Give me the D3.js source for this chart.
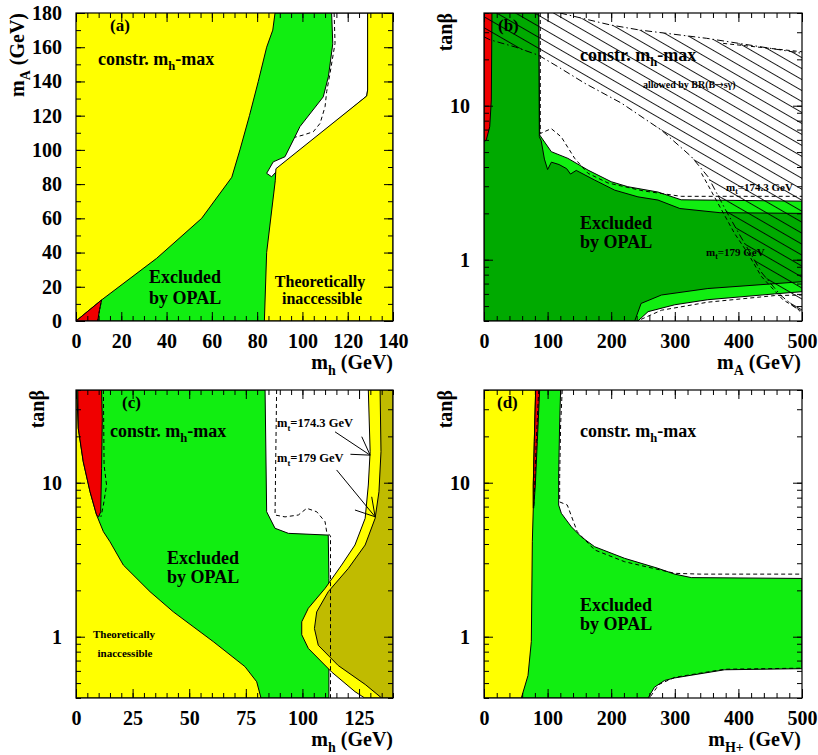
<!DOCTYPE html>
<html><head><meta charset="utf-8">
<script src="https://cdn.jsdelivr.net/npm/d3@7"></script>
<style>
body{margin:0;background:#fff;}
svg{display:block;font-family:"Liberation Serif","Times New Roman",serif;font-weight:bold;}
</style></head><body>
<svg id="chart" width="818" height="755"></svg>
<script>
// ================= DATA =================
// Panel (a): m_h (x) vs m_A (y), GeV
const aXTicks=[0,20,40,60,80,100,120,140];
const aYTicks=[0,20,40,60,80,100,120,140,160,180];
const aExcluded=[[0,0],[11.3,12.3],[35.6,36.6],[55.5,60],[68.8,84],[72.4,100],[76.6,120],[80.5,140],[84.2,160],[86.9,170],[87.9,180],[140,180],[140,0]];
const aAllowed=[[112.9,180],[113.4,162],[111.5,143],[109.2,131],[98.9,113.6],[96,105.8],[92.3,96],[87.1,93],[84.2,86.3],[86.4,84.3],[89.4,88.7],[128.4,131.5],[128.8,135],[128.8,180]];
const aTheoInacc=[[83.2,0],[84.2,40],[88,82],[88.3,89],[128.4,131.5],[128.8,135],[128.8,180],[140,180],[140,0]];
const aRed=[[0,0],[11.3,12.3],[10.4,6.5],[9.6,0]];
const aDashed=[[114,180],[114.4,162.3],[112.2,144.8],[110.7,134],[110,125.3],[107.8,115.5],[104.8,110.6],[100.4,108.7],[96.7,107.4]];
const aRedDashed=[[9.6,0],[10.4,6.5],[11.3,12.3]];

// Panel (b): m_A (x) vs tan(beta) (y)
const bXTicks=[0,100,200,300,400,500];
const bYTicks=[1,10];
const bLightGreen=[[0,40],[86,40],[87.6,6.45],[105.8,5.03],[132,4.55],[163.5,3.82],[200,3.21],[226,2.98],[273.6,2.75],[310,2.45],[500,2.40],[500,0.62],[457,0.60],[352,0.55],[300,0.51],[258,0.46],[242,0.40],[0,0.4]];
const bDarkGreen=[[0,40],[86,40],[87,6.3],[90,5.9],[95,4.5],[100,3.85],[106,4.3],[118,4.15],[130,3.9],[136,3.6],[145,3.8],[174,3.29],[205.5,2.83],[242,2.56],[273.6,2.44],[308,2.15],[371,2.02],[500,2.0],[500,0.72],[352,0.65],[279,0.59],[247,0.52],[237,0.4],[0,0.4]];
const bRed=[[0,40],[12.5,40],[11.5,10.9],[9,7.3],[3.6,6.0],[0,5.8]];
const bBsgUpper=[[119.5,40],[198,33.5],[245,31],[350,27.4],[500,21.9]];
const bBsgLower=[[0,28],[9.4,26.8],[50,24],[85.4,21.3],[116.4,17.9],[158.3,14.0],[216,10.4],[278.8,6.95],[326,4.67],[352.2,3.46],[380,2.1],[402,1.45],[437,0.82],[466,0.59],[500,0.45]];
const bBsgUpperDashed=[[376,25.4],[500,22.4]];
const bBsgLowerDashed=[[342,3.64],[368,2.32],[394,1.48],[415,1.10],[436,0.78],[470,0.55],[500,0.46]];
const bDashedUpper=[[88.5,40],[88.5,6.6],[105.8,7.1],[121.5,6.27],[142.6,4.55],[163.5,3.64],[195,3.15],[250,2.8],[310,2.58],[500,2.58]];
const bDashedLower=[[247,0.41],[279,0.47],[352,0.53],[457,0.585],[500,0.59]];

// Panel (c): m_h (x) vs tan(beta) (y)
const cXTicks=[0,25,50,75,100,125];
const cYTicks=[1,10];
const cExcluded=[[0,40],[83.5,40],[84.2,6.48],[87.9,5.06],[93.8,4.69],[111.4,4.57],[111.7,2.39],[111.7,0.4],[0,0.4]];
const cTheoInacc=[[0,40],[0.3,40],[1.0,22.6],[3.2,13.7],[6.2,8.74],[9.1,6.17],[12.1,4.81],[15,4.14],[20.9,2.92],[32.7,1.96],[43,1.45],[60.6,0.93],[74.6,0.64],[79.8,0.51],[81.7,0.4],[0,0.4]];
const cRed=[[0.8,40],[11.3,40],[11.6,26.2],[11.3,12.4],[10.9,6.48],[10,6.0],[9.1,6.17],[6.2,8.74],[3.2,13.7],[1.0,22.6]];
const cInaccMt174=[[129.1,40],[129.9,15.9],[129.1,9.66],[127.7,5.87],[123.2,3.94],[117.3,2.92],[110,2.06],[102.6,1.53],[99.7,1.25],[99.7,1.03],[102.6,0.84],[112.9,0.59],[123.2,0.44],[127.5,0.4],[140,0.4],[140,40]];
const cInaccMt179=[[134.3,40],[134.7,15.9],[133.8,8.74],[132.1,5.87],[127.7,3.94],[120.3,2.78],[111.4,1.96],[106.3,1.45],[105.3,1.13],[107,0.88],[115.8,0.65],[127.7,0.49],[135,0.4],[140,0.4],[140,40]];
const cDashedRight=[[88.6,40],[87.9,6.17],[92.3,6.0],[98.2,6.17],[101.9,6.82],[106.3,6.48],[110,5.58],[110.7,4.8],[112.4,4.5],[112.4,0.4]];
const cDashedRed=[[12.1,40],[12.4,13],[13.5,9.66],[12.1,7.16],[11,6.0]];
const cArrow174=[[114.4,21.4],[129.9,15.1]];
const cArrow174Head=[[126.2,19.9],[129.9,15.1],[121.2,15.3]];
const cArrow179=[[115.1,12.1],[132.1,6.01]];
const cArrow179Head=[[130.6,8.1],[132.1,6.01],[123.2,6.65]];

// Panel (d): m_H+ (x) vs tan(beta) (y)
const dXTicks=[0,100,200,300,400,500];
const dYTicks=[1,10];
const dExcluded=[[80,40],[120.5,40],[118.9,23.7],[117.4,11.2],[117.4,7.16],[121.6,6.33],[137.4,5.17],[153,4.45],[174,3.84],[221,3.23],[273.6,2.78],[299.8,2.55],[326,2.42],[500,2.39],[500,0.62],[378.4,0.61],[299.8,0.54],[284,0.52],[268,0.47],[258,0.4],[58,0.4]];
const dTheoInacc=[[0,40],[81.2,40],[79.1,18.5],[77.5,9.66],[77.5,6.83],[76,4.14],[74.4,0.93],[69.2,0.56],[58.7,0.4],[0,0.4]];
const dRed=[[81.2,40],[87.5,40],[83.8,18.5],[80.7,9.66],[78.1,6.83],[77.5,6.83],[77.5,9.66],[79.1,18.5]];
const dDashedUpper=[[123,40],[120.5,24],[119,11],[119,7.5],[131,7.16],[146.6,4.8],[174,3.66],[221,3.07],[300,2.58],[340,2.55],[500,2.55]];
const dDashedLower=[[262,0.41],[275,0.49],[300,0.545],[378,0.615],[500,0.625]];
const dDashedRed=[[86,40],[82,18],[79,8],[78,6.8]];

// ================= DRAWING =================
const svg=d3.select('#chart');
const COL={yellow:'#ffff00',green:'#11ee11',dark:'#00aa00',red:'#f00000',olive:'#c0bb00'};
const DASH='4,3', DASHDOT='7,3,1.5,3';
const defs=svg.append('defs');
const pat=defs.append('pattern').attr('id','hatch').attr('patternUnits','userSpaceOnUse')
  .attr('width',10).attr('height',9.5).attr('patternTransform','rotate(30)');
pat.append('line').attr('x1',0).attr('y1',0.5).attr('x2',10).attr('y2',0.5).attr('stroke','#000').attr('stroke-width',0.9);

function makePanel(cfg){
  const x=d3.scaleLinear().domain(cfg.xd).range([cfg.left,cfg.right]);
  const y=(cfg.log?d3.scaleLog():d3.scaleLinear()).domain(cfg.yd).range([cfg.bottom,cfg.top]);
  const g=svg.append('g');
  const id='clip'+cfg.name;
  defs.append('clipPath').attr('id',id).append('rect')
    .attr('x',cfg.left).attr('y',cfg.top).attr('width',cfg.right-cfg.left).attr('height',cfg.bottom-cfg.top);
  g.append('rect').attr('x',cfg.left).attr('y',cfg.top).attr('width',cfg.right-cfg.left).attr('height',cfg.bottom-cfg.top).attr('fill','#fff');
  const plot=g.append('g').attr('clip-path',`url(#${id})`);
  const line=d3.line().x(d=>x(d[0])).y(d=>y(d[1]));
  return {x,y,g,plot,line,log:cfg.log,cfg};
}
function area(p,pts,fill,stroke=true){
  p.plot.append('path').attr('d',p.line(pts)+'Z').attr('fill',fill)
    .attr('stroke',stroke?'#000':'none').attr('stroke-width',1).attr('stroke-linejoin','round');
}
function curve(p,pts,dash,w=1){
  p.plot.append('path').attr('d',p.line(pts)).attr('fill','none').attr('stroke','#000')
    .attr('stroke-width',w).attr('stroke-dasharray',dash||null);
}
function label(g,x,y,parts,size,anchor,transform){
  const t=g.append('text').attr('font-size',size).attr('text-anchor',anchor||'start');
  if(transform) t.attr('transform',transform); else t.attr('x',x).attr('y',y);
  let shifted=0;
  parts.forEach(pt=>{
    if(typeof pt==='string'){
      const s=t.append('tspan').text(pt);
      if(shifted){s.attr('dy',-shifted);shifted=0;}
    } else if(pt.sym){
      const s=t.append('tspan').attr('font-family','DejaVu Sans').attr('font-weight','normal').text(pt.sym);
      if(shifted){s.attr('dy',-shifted);shifted=0;}
    } else {
      const sh=size*0.3;
      t.append('tspan').attr('font-size',size*0.7).attr('dy',sh).text(pt.sub);
      shifted=sh;
    }
  });
  return t;
}
function drawAxes(p,majorX,majorY,minorXCount,minorYCount){
  const {x,y,g}=p;
  const [L,R]=x.range(), [B,T]=y.range();
  const minorX=x.ticks(minorXCount);
  const minorY=p.log?y.ticks():y.ticks(minorYCount);
  const none=()=> '';
  const add=(axis,tr)=>{
    const a=g.append('g').attr('transform',tr).call(axis);
    a.select('.domain').remove();
    a.attr('font-family',null).attr('font-size',null);
    a.selectAll('line').attr('stroke','#000');
    return a;
  };
  add(d3.axisBottom(x).tickValues(minorX).tickSize(-5).tickFormat(none),`translate(0,${B})`);
  add(d3.axisTop(x).tickValues(minorX).tickSize(-5).tickFormat(none),`translate(0,${T})`);
  add(d3.axisLeft(y).tickValues(minorY).tickSize(-5).tickFormat(none),`translate(${L},0)`);
  add(d3.axisRight(y).tickValues(minorY).tickSize(-5).tickFormat(none),`translate(${R},0)`);
  const bx=add(d3.axisBottom(x).tickValues(majorX).tickSize(-9).tickPadding(13).tickFormat(d3.format('d')),`translate(0,${B})`);
  add(d3.axisTop(x).tickValues(majorX).tickSize(-9).tickFormat(none),`translate(0,${T})`);
  const ly=add(d3.axisLeft(y).tickValues(majorY).tickSize(-9).tickPadding(14).tickFormat(d3.format('d')),`translate(${L},0)`);
  add(d3.axisRight(y).tickValues(majorY).tickSize(-9).tickFormat(none),`translate(${R},0)`);
  bx.selectAll('text').attr('font-size',20).attr('fill','#000');
  ly.selectAll('text').attr('font-size',20).attr('fill','#000');
}
function frame(p){
  const c=p.cfg;
  p.g.append('rect').attr('x',c.left).attr('y',c.top).attr('width',c.right-c.left).attr('height',c.bottom-c.top)
    .attr('fill','none').attr('stroke','#000').attr('stroke-width',1.2);
}

// ---------- Panel (a) ----------
const pa=makePanel({name:'a',left:76,right:393,top:13,bottom:321,xd:[0,140],yd:[0,180],log:false});
pa.plot.append('rect').attr('x',76).attr('y',13).attr('width',317).attr('height',308).attr('fill',COL.yellow);
area(pa,aExcluded,COL.green);
area(pa,aAllowed,'#fff');
area(pa,aTheoInacc,COL.yellow);
area(pa,aRed,COL.red);
curve(pa,aDashed,DASH);
curve(pa,aRedDashed,'2,2');
label(pa.g,110,31,['(a)'],17);
label(pa.g,98,65,['constr. m',{sub:'h'},'-max'],18);
label(pa.g,149,283,['Excluded'],18);
label(pa.g,149,304,['by OPAL'],18);
label(pa.g,320,287,['Theoretically'],16,'middle');
label(pa.g,322,304,['inaccessible'],16,'middle');
drawAxes(pa,aXTicks,aYTicks,28,18);
frame(pa);
label(svg,0,0,['m',{sub:'h'},' (GeV)'],20,'end').attr('x',393).attr('y',369);
label(svg,0,0,['m',{sub:'A'},' (GeV)'],20,'end','translate(24,13) rotate(-90)');

// ---------- Panel (b) ----------
const pb=makePanel({name:'b',left:484,right:802,top:13,bottom:321,xd:[0,500],yd:[0.4,40],log:true});
area(pb,bLightGreen,COL.green);
area(pb,bDarkGreen,COL.dark);
area(pb,bRed,COL.red);
curve(pb,bDashedUpper,DASH);
curve(pb,bDashedLower,DASH);
label(pb.g,498,31,['(b)'],17);
label(pb.g,580,61,['constr. m',{sub:'h'},'-max'],18);
label(pb.g,643,88,['allowed by BR(B',{sym:'\u2192'},'s\u03b3)'],10);
label(pb.g,726,191,['m',{sub:'t'},'=174.3 GeV'],11);
label(pb.g,580,229,['Excluded'],18);
label(pb.g,580,248,['by OPAL'],18);
label(pb.g,706,256,['m',{sub:'t'},'=179 GeV'],11);
area(pb,[[0,40],...bBsgUpper,...bBsgLower.slice().reverse()],'url(#hatch)',false);
curve(pb,bBsgUpper,DASHDOT);
curve(pb,bBsgLower,DASHDOT);
curve(pb,bBsgUpperDashed,DASH);
curve(pb,bBsgLowerDashed,DASH);
drawAxes(pb,bXTicks,bYTicks,25,0);
frame(pb);
label(svg,0,0,['m',{sub:'A'},' (GeV)'],20,'end').attr('x',801).attr('y',369);
label(svg,0,0,['tan\u03b2'],20,'end','translate(452,13) rotate(-90)');

// ---------- Panel (c) ----------
const pc=makePanel({name:'c',left:76,right:393,top:390,bottom:698,xd:[0,140],yd:[0.4,40],log:true});
area(pc,cExcluded,COL.green);
area(pc,cTheoInacc,COL.yellow);
area(pc,cRed,COL.red);
area(pc,cInaccMt174,COL.yellow);
area(pc,cInaccMt179,COL.olive);
curve(pc,cDashedRight,DASH);
curve(pc,cDashedRed,DASH);
curve(pc,cArrow174,null);
curve(pc,cArrow174Head,null);
curve(pc,cArrow179,null);
curve(pc,cArrow179Head,null);
label(pc.g,122,408,['(c)'],17);
label(pc.g,110,437,['constr. m',{sub:'h'},'-max'],18);
label(pc.g,277,427,['m',{sub:'t'},'=174.3 GeV'],12.5);
label(pc.g,277,462,['m',{sub:'t'},'=179 GeV'],12.5);
label(pc.g,167,564,['Excluded'],18);
label(pc.g,167,583,['by OPAL'],18);
label(pc.g,124,638,['Theoretically'],11,'middle');
label(pc.g,125,657,['inaccessible'],11,'middle');
drawAxes(pc,cXTicks,cYTicks,28,0);
frame(pc);
label(svg,0,0,['m',{sub:'h'},' (GeV)'],20,'end').attr('x',393).attr('y',746);
label(svg,0,0,['tan\u03b2'],20,'end','translate(44,390) rotate(-90)');

// ---------- Panel (d) ----------
const pd=makePanel({name:'d',left:484,right:802,top:390,bottom:698,xd:[0,500],yd:[0.4,40],log:true});
area(pd,dExcluded,COL.green);
area(pd,dTheoInacc,COL.yellow);
area(pd,dRed,COL.red);
curve(pd,dDashedUpper,DASH);
curve(pd,dDashedLower,DASH);
curve(pd,dDashedRed,DASH);
label(pd.g,497,408,['(d)'],17);
label(pd.g,580,437,['constr. m',{sub:'h'},'-max'],18);
label(pd.g,580,611,['Excluded'],18);
label(pd.g,580,630,['by OPAL'],18);
drawAxes(pd,dXTicks,dYTicks,25,0);
frame(pd);
label(svg,0,0,['m',{sub:'H+'},' (GeV)'],20,'end').attr('x',801).attr('y',746);
label(svg,0,0,['tan\u03b2'],20,'end','translate(452,390) rotate(-90)');
</script>
</body></html>
